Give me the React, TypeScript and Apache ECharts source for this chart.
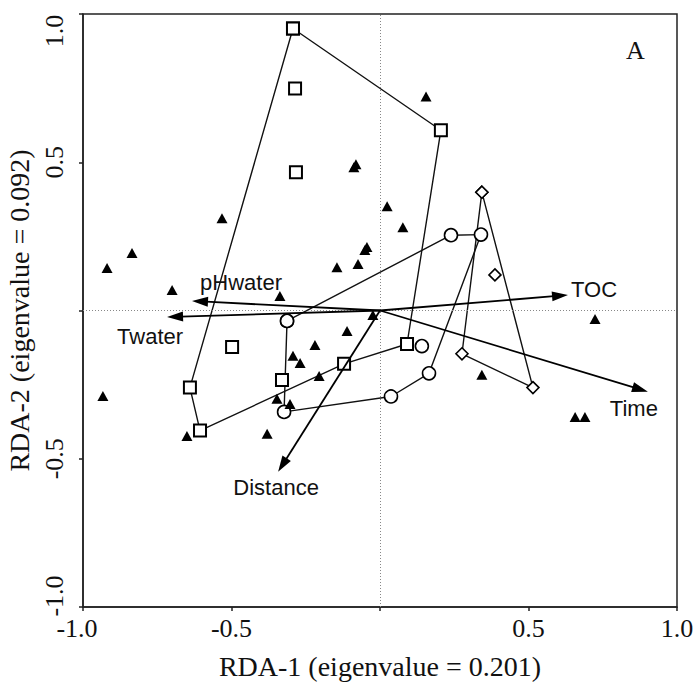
import React, { useEffect, useRef } from "react";
import * as echarts from "echarts";

// Group 1 (open squares): convex hull path and loose points
const squaresPath: number[][] = [
  [-0.293, 0.951], [0.205, 0.608], [0.091, -0.113], [-0.121, -0.18],
  [-0.606, -0.405], [-0.64, -0.26], [-0.293, 0.951],
];
const squaresLoose: number[][] = [
  [-0.286, 0.749], [-0.283, 0.466], [-0.498, -0.123], [-0.33, -0.234],
];
// Group 2 (open circles)
const circlesPath: number[][] = [
  [-0.313, -0.035], [0.239, 0.254], [0.34, 0.256], [0.165, -0.212],
  [0.037, -0.29], [-0.323, -0.342], [-0.313, -0.035],
];
const circlesLoose: number[][] = [[0.141, -0.12]];
// Group 3 (open diamonds)
const diamondsPath: number[][] = [
  [0.343, 0.399], [0.515, -0.26], [0.276, -0.146], [0.343, 0.399],
];
const diamondsLoose: number[][] = [[0.387, 0.12]];
// Filled triangles
const triangles: number[][] = [
  [-0.919, 0.143], [-0.835, 0.194], [-0.7, 0.069], [-0.532, 0.311],
  [-0.337, 0.049], [-0.145, 0.146], [-0.111, -0.069], [0.155, 0.722],
  [-0.088, 0.483], [-0.081, 0.493], [0.024, 0.352], [0.077, 0.281],
  [-0.051, 0.204], [-0.044, 0.214], [-0.074, 0.157], [0.724, -0.029],
  [-0.024, -0.015], [0.343, -0.217], [0.657, -0.359], [0.69, -0.359],
  [-0.933, -0.288], [-0.65, -0.423], [-0.38, -0.416], [-0.219, -0.116],
  [-0.293, -0.153], [-0.269, -0.177], [-0.205, -0.221], [-0.347, -0.298],
  [-0.303, -0.315],
];
// Environmental vectors
const arrowNames = ["TOC", "pHwater", "Twater", "Time", "Distance"];
const arrowX = [0.633, -0.633, -0.717, 0.902, -0.343];
const arrowY = [0.052, 0.032, -0.022, -0.274, -0.544];
const xTicks = [-1.0, -0.5, 0, 0.5, 1.0];
const yTicks = [-1.0, -0.5, 0, 0.5, 1.0];
const xTitle = "RDA-1 (eigenvalue = 0.201)";
const yTitle = "RDA-2 (eigenvalue = 0.092)";
const panelLabel = "A";

// label placement (pixel offsets from arrow tip) — styling only
const arrowLabelOffsets: number[][] = [[26, -6], [49, -19], [-17, 19], [-14, 17], [-2, 16]];

const SERIF = "'Liberation Serif', 'Times New Roman', serif";
const SANS = "'Liberation Sans', Arial, sans-serif";

export default function App() {
  const ref = useRef<HTMLDivElement>(null);
  useEffect(() => {
    document.body.style.margin = "0";
    const chart = echarts.init(ref.current!, null, { renderer: "svg" });
    const open = { color: "#fff", borderColor: "#000", borderWidth: 1.6, opacity: 1 };
    const openSq = { color: "#fff", borderColor: "#000", borderWidth: 2, opacity: 1 };
    const lineStyle = { color: "#111", width: 1.4 };
    const tickFont = { fontFamily: SERIF, fontSize: 26, color: "#111" };
    const xFmt = (v: number) => {
      if (Math.abs(v) < 1e-9) return "";
      if (v === xTicks[0]) return `{lo|${v.toFixed(1)}}`;
      return `{n|${v.toFixed(1)}}`;
    };
    const yFmt = (v: number) => {
      if (Math.abs(v) < 1e-9) return "";
      if (v === yTicks[0]) return `{lo|${v.toFixed(1)}}`;
      if (v === yTicks[yTicks.length - 1]) return `{hi|${v.toFixed(1)}}`;
      return `{n|${v.toFixed(1)}}`;
    };
    chart.setOption({
      animation: false,
      backgroundColor: "#fff",
      grid: {
        left: 83, top: 14, right: 20, bottom: 75, containLabel: false, outerBoundsMode: "none",
        show: true, borderColor: "#222", borderWidth: 1.5, backgroundColor: "transparent",
      },
      xAxis: {
        type: "value", min: xTicks[0], max: xTicks[xTicks.length - 1], interval: 0.5,
        axisLine: { show: true, onZero: false, lineStyle: { color: "#222", width: 1.5 } },
        axisTick: { show: true, length: 4, lineStyle: { color: "#222", width: 1.5 } },
        splitLine: { show: false },
        axisLabel: {
          formatter: xFmt, ...tickFont, margin: 8,
          rich: { n: { ...tickFont }, lo: { ...tickFont, padding: [0, 12, 0, 0] } },
        },
        name: xTitle, nameLocation: "middle", nameGap: 45,
        nameTextStyle: { color: "#111", fontFamily: SERIF, fontSize: 28 },
      },
      yAxis: {
        type: "value", min: yTicks[0], max: yTicks[yTicks.length - 1], interval: 0.5,
        axisLine: { show: true, onZero: false, lineStyle: { color: "#222", width: 1.5 } },
        axisTick: { show: true, length: 4, lineStyle: { color: "#222", width: 1.5 } },
        splitLine: { show: false },
        axisLabel: {
          formatter: yFmt, ...tickFont, margin: 16, rotate: 90,
          rich: {
            n: { ...tickFont },
            hi: { ...tickFont, padding: [0, 34, 0, 0] },
            lo: { ...tickFont, padding: [0, 0, 0, 22] },
          },
        },
        name: yTitle, nameLocation: "middle", nameGap: 50, nameRotate: 90,
        nameTextStyle: { color: "#111", fontFamily: SERIF, fontSize: 28 },
      },
      graphic: [
        {
          type: "text", left: 626, top: 37,
          style: { text: panelLabel, font: `26px ${SERIF}`, fill: "#111" },
        },
      ],
      series: [
        {
          type: "scatter", data: [], silent: true,
          markLine: {
            silent: true, symbol: "none", label: { show: false },
            lineStyle: { color: "#888", type: [1, 2], width: 1 },
            data: [{ xAxis: 0 }, { yAxis: 0 }],
          },
        },
        {
          type: "line", data: squaresPath, symbol: "rect", symbolSize: 12,
          lineStyle, itemStyle: openSq, z: 3,
        },
        {
          type: "line", data: circlesPath, symbol: "circle", symbolSize: 13,
          lineStyle, itemStyle: open, z: 3,
        },
        {
          type: "line", data: diamondsPath, symbol: "diamond", symbolSize: 12,
          lineStyle, itemStyle: open, z: 3,
        },
        { type: "scatter", data: squaresLoose, symbol: "rect", symbolSize: 12, itemStyle: openSq, z: 4 },
        { type: "scatter", data: circlesLoose, symbol: "circle", symbolSize: 13, itemStyle: open, z: 4 },
        { type: "scatter", data: diamondsLoose, symbol: "diamond", symbolSize: 12, itemStyle: open, z: 4 },
        {
          type: "scatter", data: triangles, symbol: "triangle", symbolSize: [11, 10],
          itemStyle: { color: "#000", opacity: 1 }, z: 4,
        },
        {
          type: "custom", z: 5,
          data: arrowNames.map((n, i) => [arrowX[i], arrowY[i], i]),
          encode: { x: 0, y: 1 },
          renderItem: (params: any, api: any) => {
            const i = api.value(2);
            const o = api.coord([0, 0]);
            const t = api.coord([api.value(0), api.value(1)]);
            const dx = t[0] - o[0], dy = t[1] - o[1];
            const len = Math.hypot(dx, dy);
            const ux = dx / len, uy = dy / len;
            const headL = 16, headW = 5;
            const b = [t[0] - ux * headL, t[1] - uy * headL];
            const px = -uy, py = ux;
            const off = arrowLabelOffsets[i];
            return {
              type: "group",
              children: [
                { type: "line", shape: { x1: o[0], y1: o[1], x2: b[0] + ux * 2, y2: b[1] + uy * 2 }, style: { stroke: "#000", lineWidth: 1.8 } },
                {
                  type: "polygon",
                  shape: { points: [t, [b[0] + px * headW, b[1] + py * headW], [b[0] - px * headW, b[1] - py * headW]] },
                  style: { fill: "#000" },
                },
                {
                  type: "text", x: t[0] + off[0], y: t[1] + off[1],
                  style: { text: arrowNames[i], fontFamily: SANS, fontSize: 22, fill: "#111", align: "center", verticalAlign: "middle" },
                },
              ],
            };
          },
        },
      ],
    });
    return () => chart.dispose();
  }, []);
  return <div ref={ref} style={{ width: 697, height: 682 }} />;
}
